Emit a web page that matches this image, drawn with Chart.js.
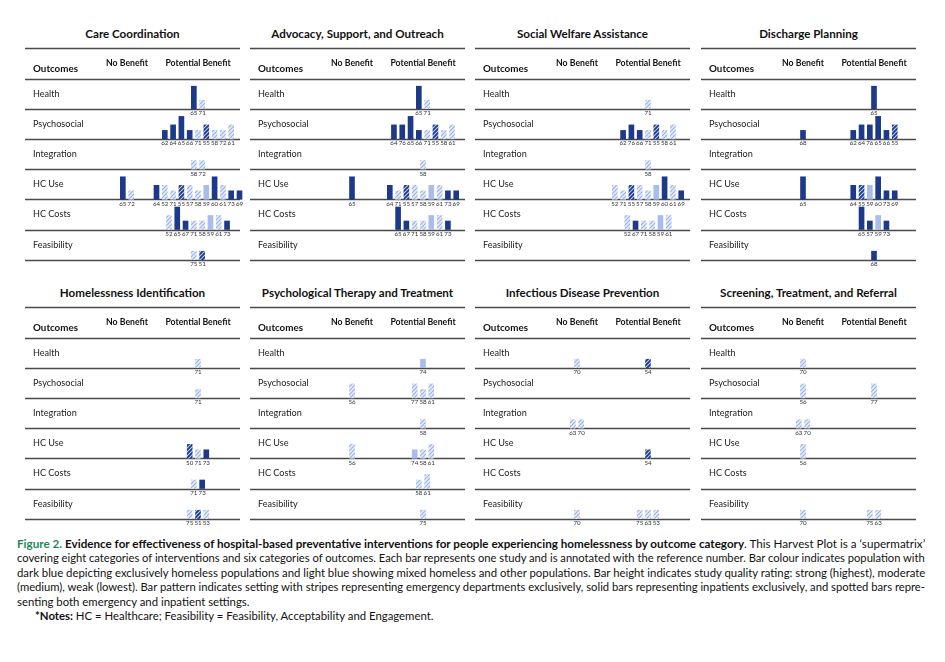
<!DOCTYPE html>
<html>
<head>
<meta charset="utf-8">
<script src="https://cdn.jsdelivr.net/npm/chart.js@4.4.1/dist/chart.umd.min.js"></script>
<style>
body { margin: 0; background: #fff; font-family: Lato, sans-serif; color: #111; }
#stage { position: relative; width: 945px; height: 662px; overflow: hidden; }
.panel { position: absolute; width: 222px; height: 240px; }
.title { position: absolute; left: 0; top: 0; width: 215px; text-align: center; font-weight: bold; font-size: 11.6px; line-height: 14px; white-space: nowrap; }
.panel canvas { position: absolute; left: 0; top: 20px; }
.cap { position: absolute; left: 17px; top: 537px; font-size: 12px; line-height: 14.4px; color: #111; }
.cap div { white-space: nowrap; width: max-content; transform-origin: 0 0; }
.cap .fig { color: #1b8a5a; font-weight: bold; }
</style>
</head>
<body>
<div id="stage">
  <div class="cap">
    <div class="j"><span class="fig">Figure 2.</span> <b>Evidence for effectiveness of hospital-based preventative interventions for people experiencing homelessness by outcome category</b>. This Harvest Plot is a ‘supermatrix’</div>
    <div class="j">covering eight categories of interventions and six categories of outcomes. Each bar represents one study and is annotated with the reference number. Bar colour indicates population with</div>
    <div class="j">dark blue depicting exclusively homeless populations and light blue showing mixed homeless and other populations. Bar height indicates study quality rating: strong (highest), moderate</div>
    <div class="j">(medium), weak (lowest). Bar pattern indicates setting with stripes representing emergency departments exclusively, solid bars representing inpatients exclusively, and spotted bars repre-</div>
    <div>senting both emergency and inpatient settings.</div>
    <div style="margin-left:18px"><b>*Notes:</b> HC = Healthcare; Feasibility = Feasibility, Acceptability and Engagement.</div>
  </div>
</div>
<script>
// outcome rows, benefit columns and panel titles
var rowLabels = ['Health', 'Psychosocial', 'Integration', 'HC Use', 'HC Costs', 'Feasibility'];
var columnLabels = ['No Benefit', 'Potential Benefit'];
var panelTitles = ['Care Coordination', 'Advocacy, Support, and Outreach', 'Social Welfare Assistance', 'Discharge Planning',
                   'Homelessness Identification', 'Psychological Therapy and Treatment', 'Infectious Disease Prevention', 'Screening, Treatment, and Referral'];

// one study = [outcome, column (N = no benefit, P = potential benefit), reference,
//              population (H = homeless only, M = mixed), quality (3 strong, 2 moderate, 1 weak),
//              setting (E = emergency dept, I = inpatient)]
var careCoordination = [
  ['Health','P',65,'H',3,'I'], ['Health','P',71,'M',1,'E'],
  ['Psychosocial','P',62,'H',1,'I'], ['Psychosocial','P',64,'H',2,'I'], ['Psychosocial','P',65,'H',3,'I'],
  ['Psychosocial','P',66,'H',1,'I'], ['Psychosocial','P',71,'M',1,'E'], ['Psychosocial','P',55,'H',2,'E'],
  ['Psychosocial','P',58,'M',1,'E'], ['Psychosocial','P',72,'M',1,'E'], ['Psychosocial','P',61,'M',2,'E'],
  ['Integration','P',58,'M',1,'E'], ['Integration','P',72,'M',1,'E'],
  ['HC Use','N',65,'H',3,'I'], ['HC Use','N',72,'M',1,'E'],
  ['HC Use','P',64,'H',2,'I'], ['HC Use','P',52,'M',2,'E'], ['HC Use','P',71,'M',1,'E'], ['HC Use','P',55,'H',2,'E'],
  ['HC Use','P',57,'M',2,'E'], ['HC Use','P',58,'M',1,'E'], ['HC Use','P',59,'M',2,'I'], ['HC Use','P',60,'H',3,'I'],
  ['HC Use','P',61,'M',2,'E'], ['HC Use','P',73,'H',1,'I'], ['HC Use','P',69,'H',1,'I'],
  ['HC Costs','P',52,'M',2,'E'], ['HC Costs','P',65,'H',3,'I'], ['HC Costs','P',67,'H',1,'I'], ['HC Costs','P',71,'M',1,'E'],
  ['HC Costs','P',58,'M',1,'E'], ['HC Costs','P',59,'M',2,'I'], ['HC Costs','P',61,'M',2,'E'], ['HC Costs','P',73,'H',1,'I'],
  ['Feasibility','P',75,'M',1,'E'], ['Feasibility','P',51,'H',1,'E']
];
var advocacySupport = [
  ['Health','P',65,'H',3,'I'], ['Health','P',71,'M',1,'E'],
  ['Psychosocial','P',64,'H',2,'I'], ['Psychosocial','P',76,'H',2,'I'], ['Psychosocial','P',65,'H',3,'I'],
  ['Psychosocial','P',66,'H',1,'I'], ['Psychosocial','P',71,'M',1,'E'], ['Psychosocial','P',55,'H',2,'E'],
  ['Psychosocial','P',58,'M',1,'E'], ['Psychosocial','P',61,'M',2,'E'],
  ['Integration','P',58,'M',1,'E'],
  ['HC Use','N',65,'H',3,'I'],
  ['HC Use','P',64,'H',2,'I'], ['HC Use','P',71,'M',1,'E'], ['HC Use','P',55,'H',2,'E'], ['HC Use','P',57,'M',2,'E'],
  ['HC Use','P',58,'M',1,'E'], ['HC Use','P',59,'M',2,'I'], ['HC Use','P',61,'M',2,'E'], ['HC Use','P',73,'H',1,'I'],
  ['HC Use','P',69,'H',1,'I'],
  ['HC Costs','P',65,'H',3,'I'], ['HC Costs','P',67,'H',1,'I'], ['HC Costs','P',71,'M',1,'E'], ['HC Costs','P',58,'M',1,'E'],
  ['HC Costs','P',59,'M',2,'I'], ['HC Costs','P',61,'M',2,'E'], ['HC Costs','P',73,'H',1,'I']
];
var socialWelfare = [
  ['Health','P',71,'M',1,'E'],
  ['Psychosocial','P',62,'H',1,'I'], ['Psychosocial','P',76,'H',2,'I'], ['Psychosocial','P',66,'H',1,'I'],
  ['Psychosocial','P',71,'M',1,'E'], ['Psychosocial','P',55,'H',2,'E'], ['Psychosocial','P',58,'M',1,'E'],
  ['Psychosocial','P',61,'M',2,'E'],
  ['Integration','P',58,'M',1,'E'],
  ['HC Use','P',52,'M',2,'E'], ['HC Use','P',71,'M',1,'E'], ['HC Use','P',55,'H',2,'E'], ['HC Use','P',57,'M',2,'E'],
  ['HC Use','P',58,'M',1,'E'], ['HC Use','P',59,'M',2,'I'], ['HC Use','P',60,'H',3,'I'], ['HC Use','P',61,'M',2,'E'],
  ['HC Use','P',69,'H',1,'I'],
  ['HC Costs','P',52,'M',2,'E'], ['HC Costs','P',67,'H',1,'I'], ['HC Costs','P',71,'M',1,'E'], ['HC Costs','P',58,'M',1,'E'],
  ['HC Costs','P',59,'M',2,'I'], ['HC Costs','P',61,'M',2,'E']
];
var dischargePlanning = [
  ['Health','P',65,'H',3,'I'],
  ['Psychosocial','N',68,'H',1,'I'],
  ['Psychosocial','P',62,'H',1,'I'], ['Psychosocial','P',64,'H',2,'I'], ['Psychosocial','P',76,'H',2,'I'],
  ['Psychosocial','P',65,'H',3,'I'], ['Psychosocial','P',66,'H',1,'I'], ['Psychosocial','P',55,'H',2,'E'],
  ['HC Use','N',65,'H',3,'I'],
  ['HC Use','P',64,'H',2,'I'], ['HC Use','P',55,'H',2,'E'], ['HC Use','P',59,'M',2,'I'], ['HC Use','P',60,'H',3,'I'],
  ['HC Use','P',73,'H',1,'I'], ['HC Use','P',69,'H',1,'I'],
  ['HC Costs','P',65,'H',3,'I'], ['HC Costs','P',57,'H',1,'I'], ['HC Costs','P',59,'M',2,'I'], ['HC Costs','P',73,'H',1,'I'],
  ['Feasibility','P',68,'H',1,'I']
];
var homelessnessIdentification = [
  ['Health','P',71,'M',1,'E'],
  ['Psychosocial','P',71,'M',1,'E'],
  ['HC Use','P',50,'H',2,'E'], ['HC Use','P',71,'M',1,'E'], ['HC Use','P',73,'H',1,'I'],
  ['HC Costs','P',71,'M',1,'E'], ['HC Costs','P',73,'H',1,'I'],
  ['Feasibility','P',75,'M',1,'E'], ['Feasibility','P',51,'H',1,'E'], ['Feasibility','P',53,'M',1,'E']
];
var psychologicalTherapy = [
  ['Health','P',74,'M',1,'I'],
  ['Psychosocial','N',56,'M',2,'E'],
  ['Psychosocial','P',77,'M',2,'E'], ['Psychosocial','P',58,'M',1,'E'], ['Psychosocial','P',61,'M',2,'E'],
  ['Integration','P',58,'M',1,'E'],
  ['HC Use','N',56,'M',2,'E'],
  ['HC Use','P',74,'M',1,'I'], ['HC Use','P',58,'M',1,'E'], ['HC Use','P',61,'M',2,'E'],
  ['HC Costs','P',58,'M',1,'E'], ['HC Costs','P',61,'M',2,'E'],
  ['Feasibility','P',75,'M',1,'E']
];
var infectiousDisease = [
  ['Health','N',70,'M',1,'E'],
  ['Health','P',54,'H',1,'E'],
  ['Integration','N',63,'M',1,'E'], ['Integration','N',70,'M',1,'E'],
  ['HC Use','P',54,'H',1,'E'],
  ['Feasibility','N',70,'M',1,'E'],
  ['Feasibility','P',75,'M',1,'E'], ['Feasibility','P',63,'M',1,'E'], ['Feasibility','P',53,'M',1,'E']
];
var screeningReferral = [
  ['Health','N',70,'M',1,'E'],
  ['Psychosocial','N',56,'M',2,'E'],
  ['Psychosocial','P',77,'M',2,'E'],
  ['Integration','N',63,'M',1,'E'], ['Integration','N',70,'M',1,'E'],
  ['HC Use','N',56,'M',2,'E'],
  ['Feasibility','N',70,'M',1,'E'],
  ['Feasibility','P',75,'M',1,'E'], ['Feasibility','P',63,'M',1,'E']
];

var panelStudies = [careCoordination, advocacySupport, socialWelfare, dischargePlanning,
                    homelessnessIdentification, psychologicalTherapy, infectiousDisease, screeningReferral];

// layout (in canvas pixels)
var W = 222, H = 222, LINE_W = 215;
var TOP = 1, HEADER = 30.5, ROW = 30.2;
var COL_X = [102, 173];
var PITCH = 8.3;
var BAR_H = { 1: 8.5, 2: 14, 3: 22.5 };
var PANEL_LEFT = [25, 250, 475, 701];
var PANEL_TOP = [27, 286];

var DARK = '#1d3a8a', LIGHT = '#a9bdeb';

function rowBottom(r) {
  return TOP + HEADER + ROW * (r + 1);
}

function makeStripes(bg, fg) {
  var c = document.createElement('canvas');
  c.width = 4; c.height = 4;
  var g = c.getContext('2d');
  g.fillStyle = bg;
  g.fillRect(0, 0, 4, 4);
  g.strokeStyle = fg;
  g.lineWidth = 1.1;
  g.beginPath();
  g.moveTo(0, 4); g.lineTo(4, 0);
  g.moveTo(-1, 1); g.lineTo(1, -1);
  g.moveTo(3, 5); g.lineTo(5, 3);
  g.stroke();
  return g.createPattern(c, 'repeat');
}
var lightStripes = makeStripes('#e3eaf9', '#9db3e4');
var darkStripes = makeStripes(DARK, '#b9c9ef');

function barColour(ctx) {
  var p = ctx.raw;
  if (!p) return DARK;
  if (p.pop === 'H') return p.set === 'E' ? darkStripes : DARK;
  return p.set === 'E' ? lightStripes : LIGHT;
}

function buildPoints(studies) {
  var pts = [];
  rowLabels.forEach(function (row, r) {
    ['N', 'P'].forEach(function (col, c) {
      var cell = studies.filter(function (s) { return s[0] === row && s[1] === col; });
      cell.forEach(function (s, i) {
        var base = rowBottom(r);
        pts.push({
          x: COL_X[c] + (i - (cell.length - 1) / 2) * PITCH,
          y: [base, base - BAR_H[s[4]]],
          ref: s[2], pop: s[3], set: s[5]
        });
      });
    });
  });
  return pts;
}

var harvestGrid = {
  id: 'harvestGrid',
  beforeDatasetsDraw: function (chart) {
    var ctx = chart.ctx, x = chart.scales.x, y = chart.scales.y;
    ctx.save();
    ctx.strokeStyle = '#4a4a4a';
    ctx.lineWidth = 1.3;
    var lines = [TOP, TOP + HEADER];
    rowLabels.forEach(function (r, i) { lines.push(rowBottom(i)); });
    lines.forEach(function (v) {
      var py = Math.round(y.getPixelForValue(v)) + 0.5;
      ctx.beginPath();
      ctx.moveTo(x.getPixelForValue(0), py);
      ctx.lineTo(x.getPixelForValue(LINE_W), py);
      ctx.stroke();
    });
    ctx.fillStyle = '#111';
    ctx.textBaseline = 'middle';
    ctx.font = 'bold 9.8px Lato';
    ctx.textAlign = 'left';
    ctx.fillText('Outcomes', x.getPixelForValue(8), y.getPixelForValue(TOP + 21));
    ctx.font = 'bold 8.7px Lato';
    ctx.textAlign = 'center';
    columnLabels.forEach(function (c, i) {
      ctx.fillText(c, x.getPixelForValue(COL_X[i]), y.getPixelForValue(TOP + 15));
    });
    ctx.font = '9.1px Lato';
    ctx.fillStyle = '#222';
    ctx.textAlign = 'left';
    rowLabels.forEach(function (r, i) {
      ctx.fillText(r, x.getPixelForValue(8), y.getPixelForValue(rowBottom(i) - ROW / 2));
    });
    ctx.restore();
  },
  afterDatasetsDraw: function (chart) {
    var ctx = chart.ctx, y = chart.scales.y;
    var data = chart.data.datasets[0].data;
    ctx.save();
    ctx.font = '6.2px Lato';
    ctx.textAlign = 'center';
    ctx.textBaseline = 'top';
    ctx.fillStyle = '#333';
    chart.getDatasetMeta(0).data.forEach(function (bar, i) {
      ctx.fillText(String(data[i].ref), bar.x, y.getPixelForValue(data[i].y[0]) + 1.5);
    });
    ctx.restore();
  }
};

var stage = document.getElementById('stage');
panelTitles.forEach(function (title, k) {
  var panel = document.createElement('div');
  panel.className = 'panel';
  panel.style.left = PANEL_LEFT[k % 4] + 'px';
  panel.style.top = PANEL_TOP[Math.floor(k / 4)] + 'px';
  var t = document.createElement('div');
  t.className = 'title';
  t.textContent = title;
  panel.appendChild(t);
  var cv = document.createElement('canvas');
  cv.width = W; cv.height = H;
  panel.appendChild(cv);
  stage.appendChild(panel);

  new Chart(cv, {
    type: 'bar',
    data: {
      datasets: [{
        data: buildPoints(panelStudies[k]),
        backgroundColor: barColour,
        borderWidth: 0,
        barThickness: 5
      }]
    },
    options: {
      responsive: false,
      animation: false,
      events: [],
      layout: { padding: 0 },
      plugins: { legend: { display: false }, tooltip: { enabled: false } },
      scales: {
        x: { type: 'linear', min: 0, max: W, offset: false, display: false },
        y: { type: 'linear', min: 0, max: H, reverse: true, display: false }
      }
    },
    plugins: [harvestGrid]
  });
});

// stretch the caption lines to the justified width
function fitCaption() {
  var lines = document.querySelectorAll('.cap div');
  var scales = [];
  lines.forEach(function (el) {
    if (el.classList.contains('j')) {
      var s = 908 / el.offsetWidth;
      scales.push(s);
      el.style.transform = 'scaleX(' + s + ')';
    }
  });
  var avg = scales.reduce(function (a, b) { return a + b; }, 0) / scales.length;
  lines.forEach(function (el) {
    if (!el.classList.contains('j')) el.style.transform = 'scaleX(' + avg + ')';
  });
}
if (document.fonts && document.fonts.ready) document.fonts.ready.then(fitCaption); else fitCaption();
</script>
</body>
</html>
